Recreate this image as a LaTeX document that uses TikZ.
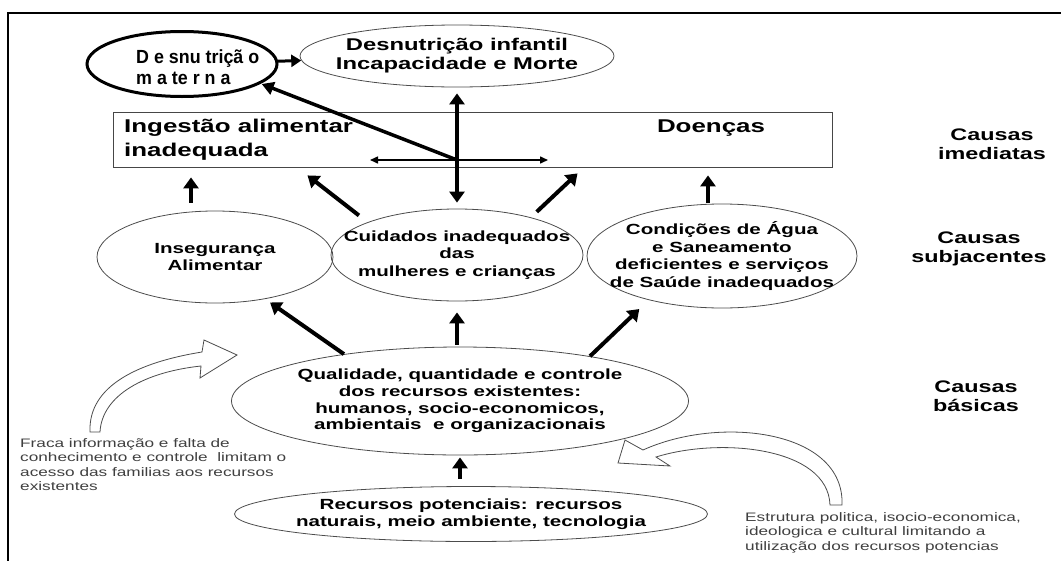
\documentclass[tikz,border=0pt]{standalone}
\usepackage{fontspec}
\setmainfont{Liberation Sans}[FakeStretch=1.4]
\newfontfamily\narrowsans{Liberation Sans}[FakeStretch=0.94]
\usetikzlibrary{shapes.geometric,arrows.meta}

\begin{document}
\begin{tikzpicture}[x=1pt, y=-1pt,
    oval/.style={ellipse, draw=gray!60!black, line width=0.8pt, inner sep=0pt},
    ovaltext/.style={align=center, font=\bfseries\fontsize{14.7}{17.5}\selectfont},
    bigarrow/.style={line width=4pt, -{Triangle[width=15pt,length=11pt]}},
    bigdouble/.style={line width=4pt, {Triangle[width=15pt,length=11pt]}-{Triangle[width=15pt,length=11pt]}},
    thinarrow/.style={line width=1.5pt, {Triangle[width=7pt,length=8pt]}-{Triangle[width=7pt,length=8pt]}},
    level/.style={align=center, font=\bfseries\fontsize{16.7}{18.5}\selectfont},
    note/.style={align=left, anchor=north west, inner sep=0pt, text=black!75, font=\fontsize{12.3}{14.6}\selectfont},
    hollow/.style={draw=gray!60!black, line width=0.8pt, fill=white}]

    % Rahmen
    \useasboundingbox (0,0) rectangle (1061,560);
    \clip (0,0) rectangle (1061,560);
    \draw[line width=1.8pt] (8,13) rectangle (1080,580);

    % Ebene oben
    \node[ellipse, draw, line width=3pt, minimum width=190pt, minimum height=65pt] (materna) at (182,64) {};
    \node[anchor=west, align=left, inner sep=0pt, font=\narrowsans\bfseries\fontsize{19}{20.5}\selectfont] (maternatext) at (136,67) {D e snu triçã o\\m a te r n a};
    \node[oval, minimum width=314pt, minimum height=62pt,
        label={[ovaltext, font=\bfseries\fontsize{17}{19}\selectfont]center:{Desnutrição infantil\\Incapacidade e Morte}}] (infantil) at (457,56) {};

    % Causas imediatas
    \node[draw=gray!55!black, line width=0.8pt, minimum width=719pt, minimum height=55pt, inner sep=0pt] (box) at (472.5,139.5) {};
    \node[anchor=west, align=left, inner sep=0pt, font=\bfseries\fontsize{18.5}{24}\selectfont] (ingest) at (124,140) {Ingestão alimentar\\inadequada};
    \node[font=\bfseries\fontsize{18.5}{24}\selectfont] (doencas) at (711,128) {Doenças};
    \coordinate (cross) at (457,160);
    \coordinate (crossl) at (370,160);
    \coordinate (crossr) at (548,160);

    % Causas subjacentes
    \node[oval, minimum width=236pt, minimum height=92pt,
        label={[ovaltext]center:{Insegurança\\Alimentar}}] (inseg) at (215,257) {};
    \node[oval, minimum width=252pt, minimum height=92pt,
        label={[ovaltext]center:{Cuidados inadequados\\das\\mulheres e crianças}}] (cuid) at (457,255) {};
    \node[oval, minimum width=270pt, minimum height=104pt,
        label={[ovaltext]center:{Condições de Água\\e Saneamento\\deficientes e serviços\\de Saúde inadequados}}] (cond) at (722,256) {};

    % Causas basicas
    \node[oval, minimum width=457pt, minimum height=108pt,
        label={[ovaltext, font=\bfseries\fontsize{14.7}{16.7}\selectfont]center:{Qualidade, quantidade e controle\\dos recursos existentes:\\humanos, socio-economicos,\\ambientais~ e organizacionais}}] (qual) at (460,401) {};
    \node[oval, minimum width=473pt, minimum height=55pt,
        label={[ovaltext]center:{Recursos potenciais: recursos\\naturais, meio ambiente, tecnologia}}] (recpot) at (471,514) {};

    % Ebenen
    \node[level] (imed) at (992,144) {Causas\\imediatas};
    \node[level] (subj) at (979,249) {Causas\\subjacentes};
    \node[level] (bas) at (976,396) {Causas\\básicas};

    % Hohlpfeile
    \draw[hollow] (90,432) .. controls (88,385) and (140,362) .. (202,352) -- (204,340) -- (237,355) -- (200,378)
        -- (201,366) .. controls (145,372) and (102,395) .. (100,432) -- cycle;
    \draw[hollow] (643,450) .. controls (720,415) and (845,430) .. (842,505) -- (830,505)
        .. controls (828,447) and (720,437) .. (656,457) -- (670,466) -- (618,463) -- (625,440) -- cycle;
    \node[note] (fraca) at (20,438) {Fraca informação e falta de\\conhecimento e controle~ limitam o\\acesso das familias aos recursos\\existentes};
    \node[note] (estrut) at (745,512) {Estrutura politica, isocio-economica,\\ideologica e cultural limitando a\\utilização dos recursos potencias};

    % Pfeile
    \draw[line width=3pt, -{Triangle[width=12pt,length=10pt]}] (materna) -- (infantil);
    \draw[bigdouble, shorten <=6pt, shorten >=6pt] (infantil.south) -- (cuid.north);
    \draw[thinarrow] (crossl) -- (crossr);
    \draw[line width=3.5pt, -{Triangle[width=13pt,length=12pt]}, shorten >=1pt] (cross) -- (materna.-14);

    \draw[bigarrow, shorten <=8pt, shorten >=10pt] ([xshift=-24pt]inseg.north) -- ([xshift=-24pt]inseg.north |- box.south);
    \draw[bigarrow, shorten <=11pt] (cuid.north west) -- ([xshift=-165pt,yshift=-8pt]box.south);
    \draw[bigarrow, shorten <=8pt] (cuid.27) -- ([xshift=105pt,yshift=-6pt]box.south);
    \draw[bigarrow, shorten <=1pt, shorten >=8pt] ([xshift=-14pt]cond.north) -- ([xshift=-14pt]cond.north |- box.south);

    \draw[bigarrow, shorten >=6pt] (qual.158) -- (inseg.-40);
    \draw[bigarrow, shorten <=2pt, shorten >=11pt] (qual.north -| cuid.south) -- (cuid.south);
    \draw[bigarrow, shorten >=13pt] (qual.19) -- (cond.211);
    \draw[bigarrow, shorten <=7pt, shorten >=2pt] (recpot.north -| qual.south) -- (qual.south);

\end{tikzpicture}
\end{document}
